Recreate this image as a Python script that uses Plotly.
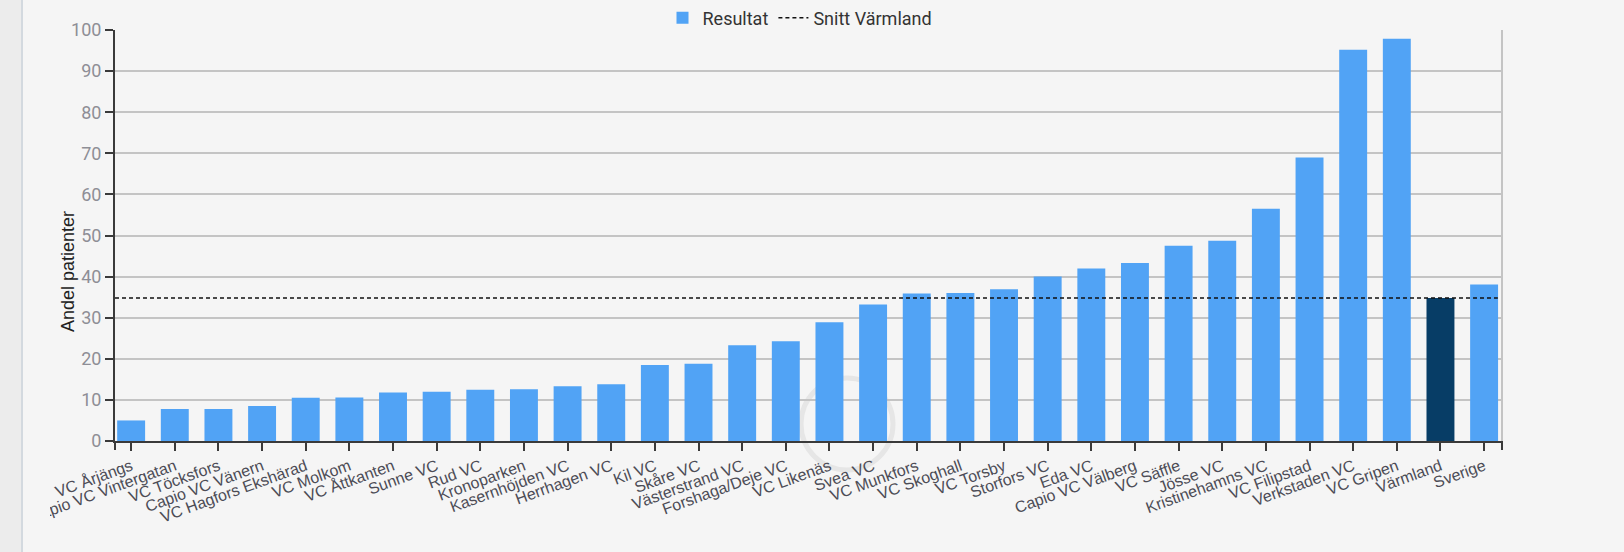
import plotly.graph_objects as go

categories = [
    "VC Årjängs", "Capio VC Vintergatan", "VC Töcksfors", "Capio VC Vänern",
    "VC Hagfors Ekshärad", "VC Molkom", "VC Åttkanten", "Sunne VC", "Rud VC",
    "Kronoparken", "Kasernhöjden VC", "Herrhagen VC", "Kil VC", "Skåre VC",
    "Västerstrand VC", "Forshaga/Deje VC", "VC Likenäs", "Svea VC", "VC Munkfors",
    "VC Skoghall", "VC Torsby", "Storfors VC", "Eda VC", "Capio VC Välberg",
    "VC Säffle", "Jösse VC", "Kristinehamns VC", "VC Filipstad", "Verkstaden VC",
    "VC Gripen", "Värmland", "Sverige",
]
resultat = [
    5.0, 7.8, 7.8, 8.5, 10.5, 10.6, 11.8, 12.0, 12.5, 12.6, 13.3, 13.8, 18.5, 18.8,
    23.3, 24.3, 28.9, 33.2, 35.9, 36.0, 36.9, 40.0, 42.0, 43.3, 47.5, 48.7, 56.5,
    69.0, 95.2, 97.9, 34.8, 38.1,
]
snitt_varmland = 34.8
highlight = "Värmland"

C_BAR = "#51a3f5"
C_HL = "#073d66"
bar_colors = [C_HL if c == highlight else C_BAR for c in categories]

# pixel geometry of plot area
L, R, T, B = 115, 122, 30, 111
W, H = 1624, 552
PW, PH = W - L - R, H - T - B

def px(xp):
    return (xp - L) / PW

def py(yp):
    return (H - B - yp) / PH

fig = go.Figure()
fig.add_trace(go.Bar(
    x=categories, y=resultat, name="Resultat",
    marker=dict(color=bar_colors, line=dict(width=0)),
    showlegend=True,
))
fig.add_trace(go.Scatter(
    x=[0, 0.997], y=[snitt_varmland, snitt_varmland], xaxis="x2",
    mode="lines", name="Snitt Värmland",
    line=dict(color="#111111", width=1.5, dash="4px,3px"),
    hoverinfo="skip",
))

grid = "#c4c4c4"
axc = "#3a3a3a"
BG = "#f5f5f5"
shapes = [
    # chart container clip on the left (labels cut at x~50)
    dict(type="rect", xref="paper", yref="paper", x0=px(-2), x1=px(50),
         y0=py(H + 2), y1=py(H - B + 12), fillcolor=BG, line=dict(width=0), layer="above"),
    # left page strip
    dict(type="rect", xref="paper", yref="paper", x0=px(-2), x1=px(21),
         y0=py(H + 2), y1=py(-2), fillcolor="#ececec", line=dict(width=0), layer="above"),
    dict(type="line", xref="paper", yref="paper", x0=px(22), x1=px(22),
         y0=py(H + 2), y1=py(-2), line=dict(color="#d3d9df", width=2), layer="above"),
    # right frame border
    dict(type="line", xref="paper", yref="paper", x0=1, x1=1, y0=0, y1=1,
         line=dict(color=grid, width=2)),
    # axis end ticks
    dict(type="line", xref="paper", yref="paper", x0=0, x1=0, y0=py(H - B + 9), y1=0,
         line=dict(color=axc, width=2)),
    dict(type="line", xref="paper", yref="paper", x0=1, x1=1, y0=py(H - B + 9), y1=0,
         line=dict(color=axc, width=2)),
    # faint loading spinner
    dict(type="circle", xref="paper", yref="paper",
         x0=px(847 - 46), x1=px(847 + 46), y0=py(424 + 46), y1=py(424 - 46),
         line=dict(color="#e6e6e6", width=5), layer="below"),
]

fig.update_layout(
    width=W, height=H,
    margin=dict(l=L, r=R, t=T, b=B, autoexpand=False),
    paper_bgcolor=BG, plot_bgcolor=BG,
    bargap=0.36,
    font=dict(family="Liberation Sans, Arial, sans-serif", color="#444"),
    xaxis=dict(
        type="category", range=[-0.37, 31.41], automargin=False,
        showline=True, linecolor=axc, linewidth=2,
        ticks="outside", ticklen=8, tickwidth=2, tickcolor=axc,
        tickangle=-20, tickfont=dict(size=16, color="#4c4c55"),
        showgrid=False, fixedrange=True,
    ),
    xaxis2=dict(overlaying="x", range=[0, 1], visible=False, fixedrange=True),
    yaxis=dict(
        range=[0, 100], dtick=10, automargin=False,
        showline=True, linecolor=axc, linewidth=2,
        ticks="outside", ticklen=8, tickwidth=2, tickcolor=axc,
        tickfont=dict(size=18, color="#8e8e96", family="Roboto, sans-serif"),
        showgrid=True, gridcolor=grid, gridwidth=1.5,
        zeroline=False, fixedrange=True,
    ),
    legend=dict(
        orientation="h", x=px(800), xanchor="center", y=py(18), yanchor="middle",
        font=dict(size=18, color="#333", family="Roboto, sans-serif"),
        bgcolor="rgba(0,0,0,0)", itemwidth=30, tracegroupgap=0,
    ),
    shapes=shapes,
    annotations=[dict(
        text="Andel patienter", xref="paper", yref="paper",
        x=px(56), y=py(272), textangle=-90, showarrow=False,
        font=dict(size=18, color="#222", family="Liberation Sans, Arial, sans-serif"),
    )],
)

fig.write_html(
    "out.html",
    config={"displayModeBar": False},
    post_script="document.body.style.margin='0';document.body.style.background='#f5f5f5';",
)
